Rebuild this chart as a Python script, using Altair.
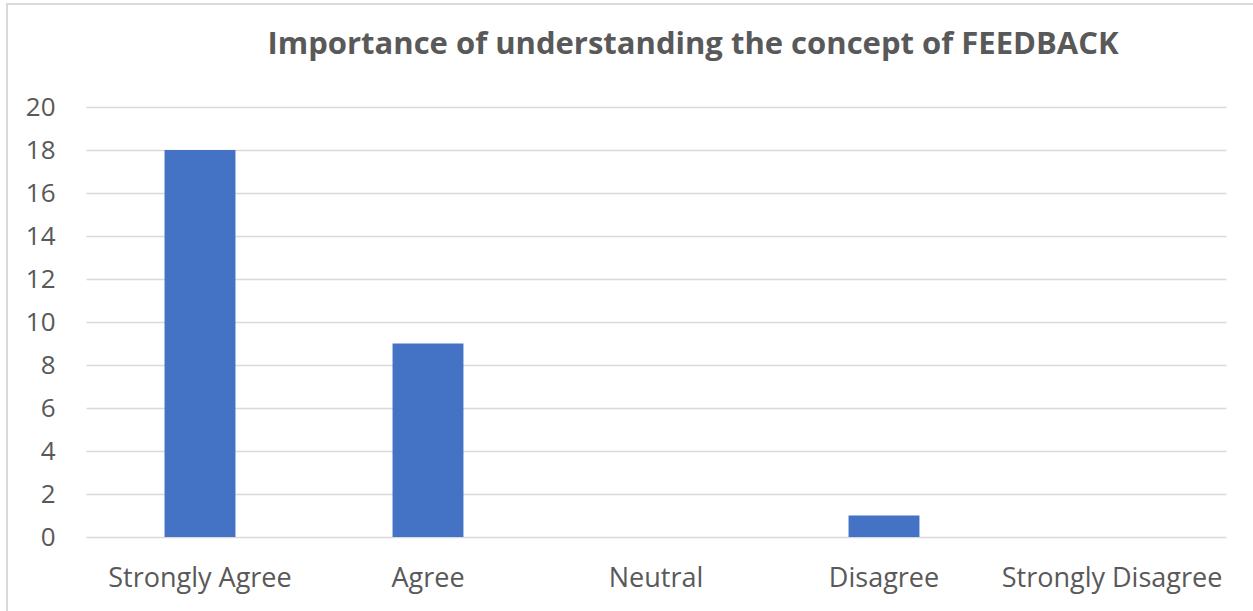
import altair as alt
import pandas as pd

categories = ["Strongly Agree", "Agree", "Neutral", "Disagree", "Strongly Disagree"]
counts = [18, 9, 0, 1, 0]
y_ticks = [0, 2, 4, 6, 8, 10, 12, 14, 16, 18, 20]
title_text = "Importance of understanding the concept of FEEDBACK"

df = pd.DataFrame({"category": categories, "count": counts})
title_df = pd.DataFrame({"t": [title_text]})

FONT = "Open Sans"
GRAY = "#595959"

bars = alt.Chart(df).mark_bar(color="#4472C4").encode(
    x=alt.X(
        "category:N",
        sort=categories,
        scale=alt.Scale(paddingInner=0.689, paddingOuter=0.3445),
        axis=alt.Axis(
            title=None, labelAngle=0, domain=False, ticks=False,
            labelFont=FONT, labelFontSize=27, labelColor=GRAY,
            labelPadding=41, labelBaseline="middle", labelLimit=0,
            labelOverlap=False,
        ),
    ),
    y=alt.Y(
        "count:Q",
        scale=alt.Scale(domain=[0, 20]),
        axis=alt.Axis(
            title=None, values=y_ticks, domain=False, ticks=False,
            grid=True, gridColor="#d9d9d9", gridWidth=1.3,
            labelFont=FONT, labelFontSize=26, labelColor=GRAY,
            labelPadding=31,
        ),
    ),
)

border = alt.Chart(df).mark_rect(
    fill=None, stroke="#d9d9d9", strokeWidth=1.3
).encode(
    x=alt.value(-79), x2=alt.value(1180),
    y=alt.value(-103), y2=alt.value(520),
)

title = alt.Chart(title_df).mark_text(
    font=FONT, fontSize=31, fontWeight="bold", color=GRAY,
    align="center", baseline="alphabetic",
).encode(
    text="t:N", x=alt.value(607), y=alt.value(-53),
)

chart = alt.layer(border, bars, title).properties(
    width=1140,
    height=430,
    autosize=alt.AutoSizeParams(type="none"),
    padding={"left": 86, "top": 107, "right": 27, "bottom": 74},
    background="white",
).configure_view(stroke=None)

chart.save("out.html", embed_options={"renderer": "svg", "actions": False})
